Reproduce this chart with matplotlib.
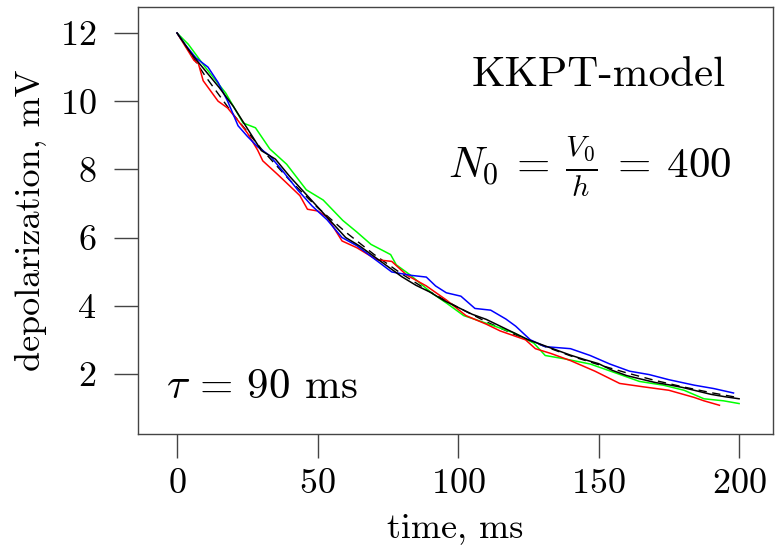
import matplotlib
matplotlib.use("Agg")
import matplotlib.pyplot as plt

plt.rcParams['font.family'] = 'serif'
plt.rcParams['font.serif'] = ['cmr10']
plt.rcParams['mathtext.fontset'] = 'cm'
plt.rcParams['axes.formatter.use_mathtext'] = True

# ---- data ----
green_t = [0, 4, 10, 17.3, 23.5, 27.9, 33, 39, 46, 52, 59, 64, 69, 76, 78, 83, 90.5, 96, 102, 106,
           113, 120, 127, 131, 138, 147, 156, 164.5, 173, 180.4, 187.5, 194.5, 200]
green_v = [12, 11.67, 11.0, 10.24, 9.36, 9.22, 8.6, 8.15, 7.4, 7.1, 6.5, 6.16, 5.8, 5.5, 5.2, 4.9, 4.38,
           4.07, 3.71, 3.6, 3.4, 3.2, 2.9, 2.54, 2.44, 2.29, 2.03, 1.78, 1.67, 1.52, 1.27, 1.21, 1.13]

red_t = [0, 3, 6, 7.6, 9.3, 14.6, 18, 21.7, 25, 28.7, 30.5, 35.8, 39, 43.7, 46.4, 50, 53.4, 58.7, 64, 71,
         76.4, 81.7, 88.7, 95.8, 102.8, 110, 115, 124, 127.5, 133, 140, 148.7, 157.5, 166, 175, 184,
         187.5, 193]
red_v = [12, 11.6, 11.2, 11.1, 10.6, 10.0, 9.8, 9.43, 9.07, 8.56, 8.25, 7.85, 7.6, 7.23, 6.83, 6.78, 6.6,
         5.9, 5.7, 5.35, 5.3, 4.9, 4.58, 4.17, 3.71, 3.46, 3.26, 3.0, 2.74, 2.6, 2.39, 2.08, 1.72, 1.62,
         1.52, 1.31, 1.21, 1.08]

blue_t = [0, 3, 6.7, 11, 14.6, 18, 21.7, 25, 28.7, 33, 37.6, 43, 48, 53.4, 58.7, 64, 69, 76.4, 83.4,
          88.7, 92, 95.8, 101, 106, 111.6, 117, 120.5, 125.7, 131, 140, 147, 154, 161, 168, 175, 184,
          191, 198]
blue_v = [12, 11.65, 11.27, 11.0, 10.55, 10.0, 9.28, 8.97, 8.66, 8.4, 7.95, 7.39, 6.93, 6.52, 6.0, 5.76,
          5.45, 4.99, 4.89, 4.84, 4.58, 4.38, 4.28, 3.92, 3.87, 3.61, 3.4, 3.0, 2.8, 2.74, 2.54, 2.29,
          2.08, 1.98, 1.83, 1.67, 1.57, 1.44]

black_t = [0, 5, 10, 15, 20, 25, 30, 35, 40, 45, 50, 55, 60, 65, 70, 75, 80, 85, 90, 95, 100, 105, 110,
           115, 120, 125, 130, 135, 140, 145, 150, 155, 160, 165, 170, 175, 180, 185, 190, 195, 200]
black_v = [12, 11.4, 10.9, 10.4, 9.85, 9.2, 8.55, 8.3, 7.8, 7.35, 6.9, 6.45, 6.0, 5.75, 5.45, 5.15, 4.85,
           4.6, 4.4, 4.15, 3.95, 3.75, 3.6, 3.4, 3.2, 3.0, 2.85, 2.7, 2.55, 2.42, 2.3, 2.1, 1.95, 1.85,
           1.75, 1.68, 1.6, 1.5, 1.4, 1.33, 1.27]

theory_t = [0, 10, 20, 30, 40, 50, 60, 70, 80, 90, 100, 110, 120, 130, 140, 150, 160, 170, 180, 190, 200]
theory_v = [12, 10.74, 9.61, 8.6, 7.69, 6.88, 6.16, 5.51, 4.93, 4.41, 3.95, 3.53, 3.16, 2.83, 2.53,
            2.27, 2.03, 1.81, 1.62, 1.45, 1.30]

x_ticks = [0, 50, 100, 150, 200]
y_ticks = [2, 4, 6, 8, 10, 12]

fig = plt.figure(figsize=(7.77, 5.46), dpi=100)
ax = fig.add_axes([0.1776, 0.205, 0.8174, 0.782])

ax.plot(theory_t, theory_v, color='black', lw=1.0, ls=(0, (6, 4)))
ax.plot(green_t, green_v, color='#00FF00', lw=1.1)
ax.plot(red_t, red_v, color='#FF0000', lw=1.1)
ax.plot(blue_t, blue_v, color='#0000FF', lw=1.1)
ax.plot(black_t, black_v, color='black', lw=1.1)

ax.set_xlim(-13.9, 212.1)
ax.set_ylim(0.235, 12.76)
ax.set_xticks(x_ticks)
ax.set_yticks(y_ticks)
axcol = '#444444'
for s in ax.spines.values():
    s.set_color(axcol)
    s.set_linewidth(1.0)
ax.tick_params(direction='out', length=17, width=1.0, color=axcol, labelsize=26)
ax.tick_params(axis='x', pad=8)
ax.tick_params(axis='y', pad=13)

ax.set_xlabel('time, ms', fontsize=26, labelpad=9)
ax.set_ylabel('depolarization, mV', fontsize=26, labelpad=9)

ax.text(150, 10.76, 'KKPT-model', fontsize=31, ha='center', va='center')
ax.text(147, 8.1, r'$N_0 \:=\: \frac{V_0}{h} \:=\: 400$', fontsize=31, ha='center', va='center')
ax.text(30, 1.6, r'$\tau$ = 90 ms', fontsize=31, ha='center', va='center')

fig.savefig('out.png', dpi=100)
